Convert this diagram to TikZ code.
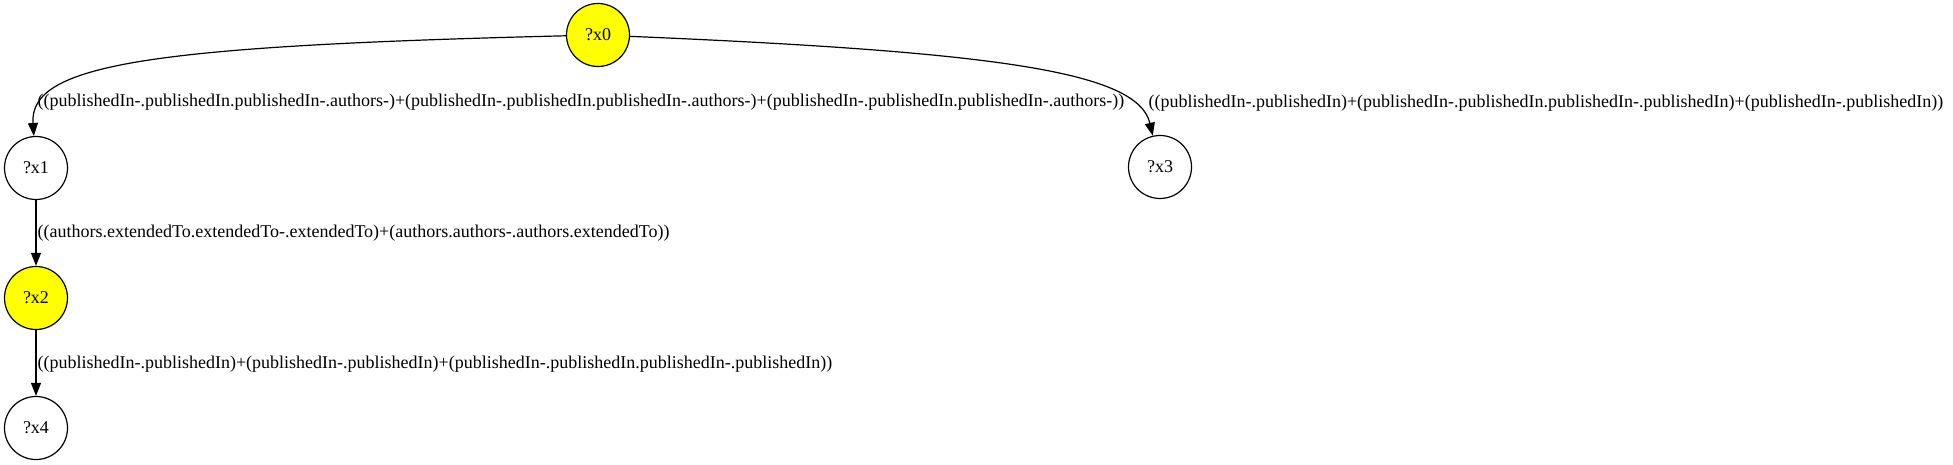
\documentclass[tikz,border=0pt]{standalone}
\usepackage{fontspec}
\setmainfont{Liberation Serif}
\usetikzlibrary{arrows.meta,positioning}
\definecolor{cHit}{HTML}{FFFF00}
\definecolor{cInk}{HTML}{000000}
\tikzset{
  every picture/.style={line width=1.2pt},
  var/.style={circle, draw=cInk, fill=white, minimum size=63pt, inner sep=0pt,
              font=\fontsize{18}{20}\selectfont, text=cInk},
  hvar/.style={var, fill=cHit},
  lbl/.style={font=\fontsize{18}{20}\selectfont, text=cInk, anchor=west, inner sep=0pt},
  edge/.style={-{Triangle[length=13pt,width=10pt]}, draw=cInk},
}

\begin{document}
\begin{tikzpicture}[x=1pt,y=1pt]
\useasboundingbox (0,0) rectangle (1953,464);

% ================================================== variables
\node[hvar] (x0) at (598,429) {?x0};
\node[var]  (x1) at (36,296)  {?x1};
\node[var]  (x3) at (1160,297) {?x3};
\node[hvar] (x2) at (36,166)  {?x2};
\node[var]  (x4) at (36,36)   {?x4};

% ================================================== paths
\draw[edge] (x0) .. controls (150,418) and (29,400) .. (x1);
\draw[edge] (x0) .. controls (1000,412) and (1138,392) .. (x3);
\draw[edge] (x1) -- (x2);
\draw[edge] (x2) -- (x4);

% ================================================== path labels
\node[lbl] (l01) at (37,362)
  {((publishedIn-.publishedIn.publishedIn-.authors-)+(publishedIn-.publishedIn.publishedIn-.authors-)+(publishedIn-.publishedIn.publishedIn-.authors-))};
\node[lbl] (l03) at (1148,361)
  {((publishedIn-.publishedIn)+(publishedIn-.publishedIn.publishedIn-.publishedIn)+(publishedIn-.publishedIn))};
\node[lbl] (l12) at (37,231)
  {((authors.extendedTo.extendedTo-.extendedTo)+(authors.authors-.authors.extendedTo))};
\node[lbl] (l24) at (37,100)
  {((publishedIn-.publishedIn)+(publishedIn-.publishedIn)+(publishedIn-.publishedIn.publishedIn-.publishedIn))};

\end{tikzpicture}
\end{document}
